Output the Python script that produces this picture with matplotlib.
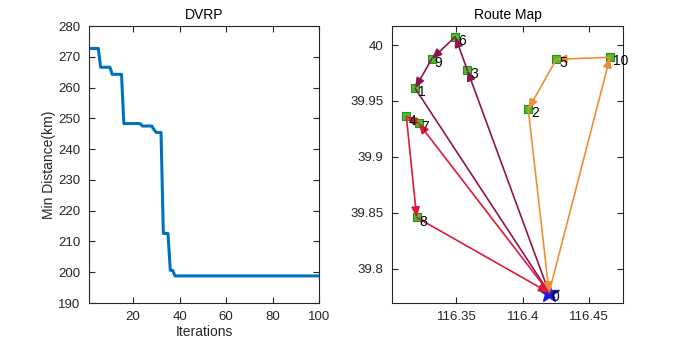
import matplotlib
matplotlib.use("Agg")
import matplotlib.pyplot as plt
import numpy as np

plt.rcParams['font.family'] = ['Liberation Sans', 'DejaVu Sans']

# ---- convergence data ----
levels = [272.7, 266.6, 264.3, 248.3, 247.5, 246.3, 245.4, 212.6, 200.6, 198.8]
level_counts = [5, 5, 5, 8, 5, 1, 3, 3, 2, 63]
min_dist = np.repeat(levels, level_counts)
iterations = np.arange(1, len(min_dist) + 1)

# ---- route map data ----
node_ids = [0, 1, 2, 3, 4, 5, 6, 7, 8, 9, 10]
lon = [116.4199, 116.3189, 116.4042, 116.3583, 116.3123, 116.4253,
       116.3492, 116.3216, 116.3201, 116.3314, 116.4658]
lat = [39.7785, 39.9613, 39.9425, 39.9774, 39.9362, 39.9872,
       40.0074, 39.9300, 39.8458, 39.9875, 39.9890]
routes = [[0, 3, 6, 9, 1, 0], [0, 10, 5, 2, 0], [0, 7, 4, 8, 0]]
route_colors = ['#8E1650', '#EE8F35', '#DC1A3C']

fig = plt.figure(figsize=(6.89, 3.43), dpi=100)
W, H = 689, 343
ax1 = fig.add_axes([89 / W, 40 / H, 230 / W, 277 / H])
ax2 = fig.add_axes([392 / W, 40 / H, 231 / W, 277 / H])

axcol = '#262626'
for ax in (ax1, ax2):
    for s in ax.spines.values():
        s.set_color(axcol)
        s.set_linewidth(0.8)
    ax.tick_params(direction='in', length=4, width=0.8, colors=axcol,
                   labelsize=9.5, top=True, right=True, pad=6)

# left
ax1.plot(iterations, min_dist, color='#0072BD', lw=2.2)
ax1.set_xlim(1, 100)
ax1.set_ylim(190, 280)
ax1.set_xticks([20, 40, 60, 80, 100])
ax1.set_yticks(np.arange(190, 281, 10))
ax1.set_title('DVRP', fontsize=10, pad=5)
ax1.set_xlabel('Iterations', fontsize=10, labelpad=1, color=axcol)
ax1.set_ylabel('Min Distance(km)', fontsize=10, labelpad=2, color=axcol)

# right
ax2.plot(lon[1:], lat[1:], 's', ms=5.5, mfc='#45C02A', mec='#2E8B22', mew=0.8, zorder=2)
for r, c in zip(routes, route_colors):
    for a, b in zip(r[:-1], r[1:]):
        ax2.annotate('', xy=(lon[b], lat[b]), xytext=(lon[a], lat[a]),
                     arrowprops=dict(arrowstyle='-|>,head_length=0.6,head_width=0.25',
                                     color=c, lw=1.2, shrinkA=0, shrinkB=0,
                                     mutation_scale=10), zorder=3)
ax2.plot(lon[0], lat[0], '*', ms=15, mfc='#1B1BD6', mec='#2020E0', zorder=2.5)
for i, x, y in zip(node_ids, lon, lat):
    ax2.annotate(str(i), (x, y), xytext=(2, -3), textcoords='offset points',
                 ha='left', va='center', fontsize=10, color='black', zorder=4)

ax2.set_xlim(116.3015, 116.4756)
ax2.set_ylim(39.7693, 40.017)
ax2.set_xticks([116.35, 116.4, 116.45])
ax2.set_xticklabels(['116.35', '116.4', '116.45'])
ax2.set_yticks([39.8, 39.85, 39.9, 39.95, 40.0])
ax2.set_yticklabels(['39.8', '39.85', '39.9', '39.95', '40'])
ax2.set_title('Route Map', fontsize=10, pad=5)

fig.savefig('out.png', dpi=100)
